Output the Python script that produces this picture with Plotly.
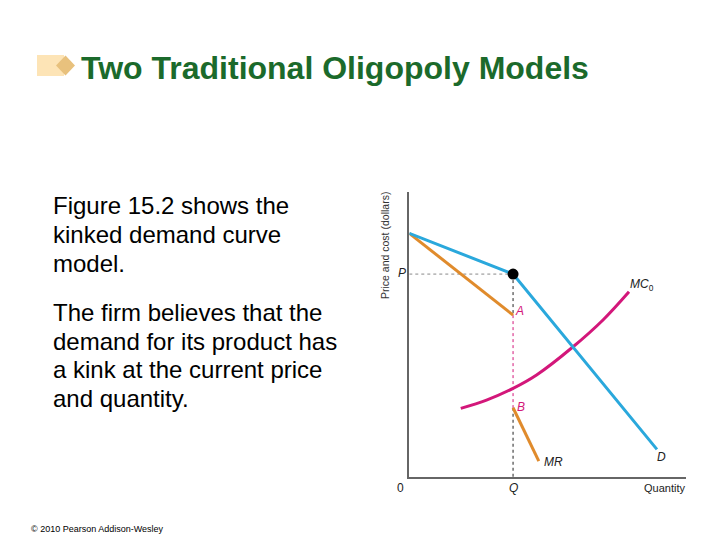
import plotly.graph_objects as go

# ---- data (quantity, price) ----
demand_q = [0.0, 3.75, 8.95]
demand_p = [8.55, 7.12, 0.97]
mr_upper_q = [0.0, 3.75]
mr_upper_p = [8.55, 5.68]
mr_lower_q = [3.75, 4.68]
mr_lower_p = [2.43, 0.56]
mc_q = [1.86, 2.79, 3.75, 4.6, 5.92, 7.0, 7.94]
mc_p = [2.41, 2.70, 3.11, 3.58, 4.57, 5.51, 6.50]
kink_q = 3.75
kink_p = 7.12
point_a_p = 5.68
point_b_p = 2.43

title_text = "Two Traditional Oligopoly Models"
para1 = ["Figure 15.2 shows the", "kinked demand curve", "model."]
para2 = ["The firm believes that the", "demand for its product has",
         "a kink at the current price", "and quantity."]
copyright_text = "© 2010 Pearson Addison-Wesley"

# page has an 8px body margin; figure sized to fit the remaining viewport
OFF = 8
W, H = 712, 532
def px(x): return (x - OFF) / W
def py(y): return 1 - (y - OFF) / H

BLUE = "#2aa8dc"
ORANGE = "#e08b2c"
MAG = "#d3177a"

fig = go.Figure()
# dotted guide lines
fig.add_trace(go.Scatter(x=[0, kink_q], y=[kink_p, kink_p], mode="lines",
                         line=dict(color="#888888", width=1, dash="dot"), hoverinfo="skip"))
fig.add_trace(go.Scatter(x=[kink_q, kink_q], y=[kink_p, point_a_p], mode="lines",
                         line=dict(color="#222222", width=1, dash="dot"), hoverinfo="skip"))
fig.add_trace(go.Scatter(x=[kink_q, kink_q], y=[point_a_p, point_b_p], mode="lines",
                         line=dict(color=MAG, width=1, dash="dot"), hoverinfo="skip"))
fig.add_trace(go.Scatter(x=[kink_q, kink_q], y=[point_b_p, 0], mode="lines",
                         line=dict(color="#222222", width=1, dash="dot"), hoverinfo="skip"))
# curves
fig.add_trace(go.Scatter(x=mr_upper_q, y=mr_upper_p, mode="lines",
                         line=dict(color=ORANGE, width=3)))
fig.add_trace(go.Scatter(x=mr_lower_q, y=mr_lower_p, mode="lines",
                         line=dict(color=ORANGE, width=3)))
fig.add_trace(go.Scatter(x=mc_q, y=mc_p, mode="lines",
                         line=dict(color=MAG, width=3, shape="spline")))
fig.add_trace(go.Scatter(x=demand_q, y=demand_p, mode="lines",
                         line=dict(color=BLUE, width=3)))
fig.add_trace(go.Scatter(x=[kink_q], y=[kink_p], mode="markers",
                         marker=dict(color="black", size=11)))

x0, x1 = 409.3, 686
ybot, ytop = 477, 192
fig.update_layout(
    width=W, height=H, margin=dict(l=0, r=0, t=0, b=0),
    paper_bgcolor="white", plot_bgcolor="white", showlegend=False,
    font=dict(family="Liberation Sans, Arial, sans-serif"),
    xaxis=dict(domain=[px(x0), px(x1)], range=[0, 10], showgrid=False, zeroline=False,
               showticklabels=False, ticks="", showline=True, linecolor="#666666", linewidth=1.5),
    yaxis=dict(domain=[py(ybot), py(ytop)], range=[0, 10], showgrid=False, zeroline=False,
               showticklabels=False, ticks="", showline=True, linecolor="#666666", linewidth=1.5),
)

# icon
fig.add_shape(type="rect", xref="paper", yref="paper", x0=px(37), x1=px(64), y0=py(76), y1=py(55),
              fillcolor="#fde4b6", line=dict(width=0), layer="below")
fig.add_shape(type="path", xref="paper", yref="paper",
              path=f"M {px(56)} {py(65.5)} L {px(65.5)} {py(55.5)} L {px(75)} {py(65.5)} L {px(65.5)} {py(75.5)} Z",
              fillcolor="#e8c17d", line=dict(width=0))

anns = []
anns.append(dict(x=px(79), y=py(68), xref="paper", yref="paper", xanchor="left", yanchor="middle",
                 text=f"<b>{title_text}</b>", showarrow=False,
                 font=dict(size=32, color="#1b6a2b", family="Liberation Sans, Arial, sans-serif")))
for i, t in enumerate(para1):
    anns.append(dict(x=px(51), y=py(206 + 28.5 * i), xref="paper", yref="paper", xanchor="left",
                     yanchor="middle", text=t, showarrow=False, font=dict(size=24, color="black")))
for i, t in enumerate(para2):
    anns.append(dict(x=px(51), y=py(312.5 + 28.5 * i), xref="paper", yref="paper", xanchor="left",
                     yanchor="middle", text=t, showarrow=False, font=dict(size=24, color="black")))
anns.append(dict(x=px(29), y=py(529), xref="paper", yref="paper", xanchor="left", yanchor="middle",
                 text=copyright_text, showarrow=False, font=dict(size=9, color="black")))

def lbl(xp, yp, text, color="#222222", size=11, xanchor="center", angle=0):
    anns.append(dict(x=px(xp), y=py(yp), xref="paper", yref="paper", xanchor=xanchor, yanchor="middle",
                     text=text, showarrow=False, textangle=angle,
                     font=dict(size=size, color=color, family="Liberation Sans, Arial, sans-serif")))

lbl(400, 488, "0", size=12)
lbl(513.3, 488, "<i>Q</i>", size=12)
lbl(687, 488, "Quantity", xanchor="right")
lbl(401.5, 273, "<i>P</i>", size=12)
lbl(385, 246, "Price and cost (dollars)", color="#333333", size=10.5, angle=-90)
lbl(628, 285, "<i>MC</i><sub>0</sub>", xanchor="left", size=12)
lbl(661, 457, "<i>D</i>", size=12)
lbl(542, 462, "<i>MR</i>", xanchor="left", size=12)
lbl(519.5, 311, "<i>A</i>", color=MAG, size=12)
lbl(521, 407, "<i>B</i>", color=MAG, size=12)

fig.update_layout(annotations=anns)
fig.write_html("out.html")
